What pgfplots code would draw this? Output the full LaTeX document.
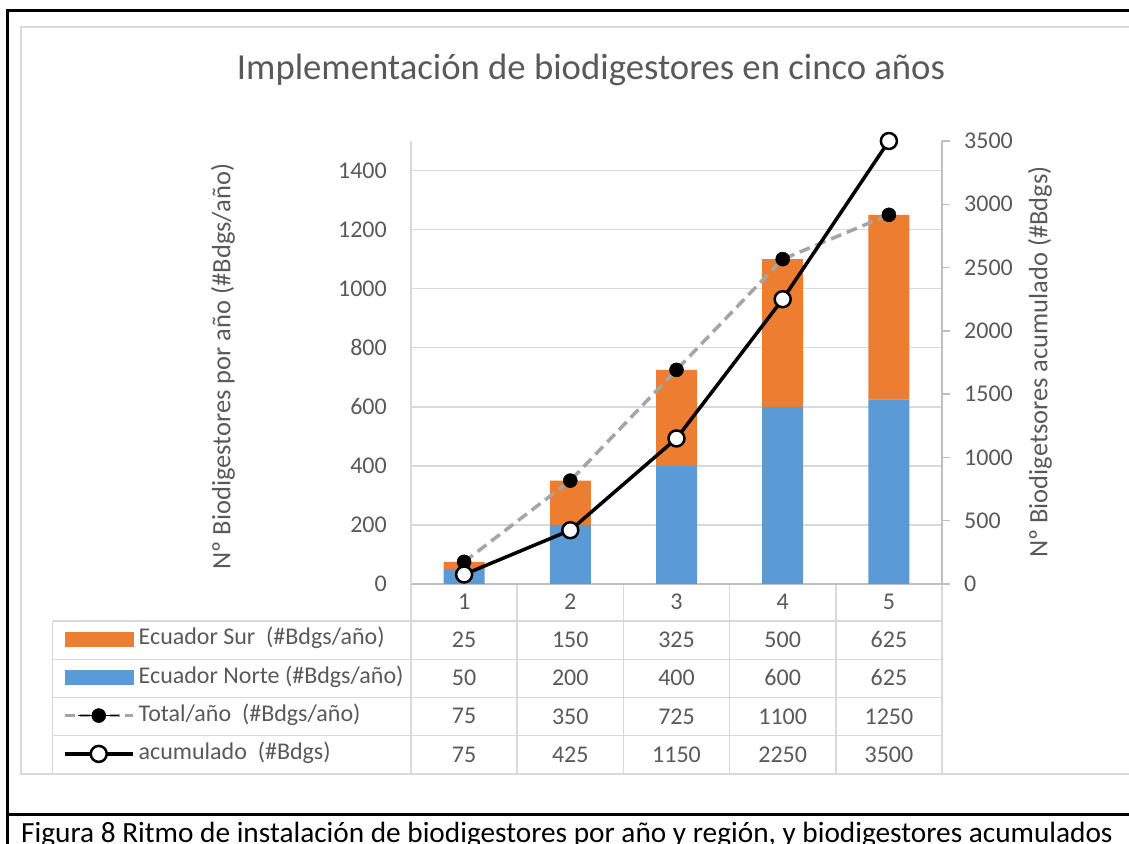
\documentclass[border=0pt]{standalone}
\usepackage{pgfplots}
\pgfplotsset{compat=1.18}
\usepackage{fontspec}
\setmainfont{Carlito}
\definecolor{tcol}{HTML}{595959}
\definecolor{gridc}{HTML}{D9D9D9}
\definecolor{axc}{HTML}{BFBFBF}
\definecolor{cnorte}{HTML}{5B9BD5}
\definecolor{csur}{HTML}{ED7D31}
\definecolor{ctot}{HTML}{A5A5A5}
\newcommand{\fs}[1]{\fontsize{#1}{#1}\selectfont}
\begin{document}
\begin{tikzpicture}
\path[use as bounding box] (0pt,0pt) rectangle (1129pt,843pt);
\clip (0pt,0pt) rectangle (1129pt,843pt);
\begin{scope}[x=1pt,y=1pt]
% outer frames
\draw[black, line width=3pt] (7,-5) -- (7,832) -- (1135,832);
\draw[black, line width=3pt] (7,29) -- (1135,29);
\draw[gridc, line width=2pt] (1135,69) -- (21,69) -- (21,816) -- (1135,816);
% title and axis titles
\node[anchor=base, text=tcol, font=\fs{36.7}, inner sep=0pt] at (591,763) {Implementación de biodigestores en cinco años};
\node[anchor=center, rotate=90, text=tcol, font=\fs{26.5}, inner sep=0pt] at (223,476.5) {Nº Biodigestores por año (\#Bdgs/año)};
\node[anchor=center, rotate=90, text=tcol, font=\fs{26.5}, inner sep=0pt] at (1040,481) {Nº Biodigetsores acumulado (\#Bdgs)};
\node[anchor=base west, font=\fs{29.3}, inner sep=0pt] at (21,0.5) {Figura 8 Ritmo de instalación de biodigestores por año y región, y biodigestores acumulados};
% data table grid
\begin{scope}[gridc, line width=1.5pt]
\foreach \y in {222,183.7,145.3,107.3,69} \draw (52.7,\y) -- (942,\y);
\draw (52.7,222) -- (52.7,69);
\foreach \x in {411,517.2,623.4,729.6,835.8,942} \draw (\x,259) -- (\x,69);
\end{scope}
% data table values
\begin{scope}[every node/.style={text=tcol, font=\fs{24}, inner sep=0pt, anchor=center}]
\foreach \v [count=\i] in {25,150,325,500,625} \node at ({411+106.2*(\i-0.5)},203.5) {\v};
\foreach \v [count=\i] in {50,200,400,600,625} \node at ({411+106.2*(\i-0.5)},165.2) {\v};
\foreach \v [count=\i] in {75,350,725,1100,1250} \node at ({411+106.2*(\i-0.5)},126.7) {\v};
\foreach \v [count=\i] in {75,425,1150,2250,3500} \node at ({411+106.2*(\i-0.5)},88.5) {\v};
\end{scope}
\end{scope}

% bars (left axis)
\begin{axis}[
  at={(411pt,259pt)}, anchor=south west,
  width=531pt, height=443pt, scale only axis,
  xmin=0.5, xmax=5.5, ymin=0, ymax=1500,
  ybar stacked, bar width=41pt,
  axis x line*=bottom, axis y line*=left,
  x axis line style={-, draw=axc, line width=1.5pt},
  y axis line style={-, draw=gridc, line width=1.5pt},
  xtick={1,2,3,4,5}, xticklabels={1,2,3,4,5},
  major tick length=0pt,
  ytick={0,200,...,1400},
  ymajorgrids, grid style={draw=gridc, line width=1.5pt},
  ticklabel style={font=\fs{24}, text=tcol, inner sep=0pt},
  xticklabel style={anchor=center, yshift=-18pt},
  yticklabel style={anchor=east, xshift=-24pt},
  /pgf/number format/assume math mode=true,
  /pgf/number format/1000 sep={},
  clip=false,
  legend cell align=left,
  legend style={
    at={(axis description cs:-0.65537,-0.09255)}, anchor=north west,
    draw=none, fill=none, inner sep=0pt, outer sep=0pt,
    row sep=10.3pt, column sep=4.2pt,
    font=\fs{24}, text=tcol,
    nodes={inner sep=0pt, text height=20pt, text depth=8pt},
  },
]
\addplot[fill=cnorte, draw=none, forget plot] coordinates {(1,50) (2,200) (3,400) (4,600) (5,625)};
\addplot[fill=csur, draw=none, forget plot] coordinates {(1,25) (2,150) (3,325) (4,500) (5,625)};
\addlegendimage{legend image code/.code={\fill[csur] (0pt,-7pt) rectangle (68pt,7pt);}}
\addlegendentry{Ecuador Sur\ \ (\#Bdgs/año)}
\addlegendimage{legend image code/.code={\fill[cnorte] (0pt,-7pt) rectangle (68pt,7pt);}}
\addlegendentry{Ecuador Norte (\#Bdgs/año)}
\addlegendimage{legend image code/.code={
  \draw[ctot, line width=3.5pt, dash pattern=on 10pt off 5pt] (0pt,0pt) -- (68pt,0pt);
  \draw plot[mark=*, mark size=7pt, mark options={fill=black, draw=black, line width=0.5pt}] coordinates {(34pt,0pt)};}}
\addlegendentry{Total/año\ \ (\#Bdgs/año)}
\addlegendimage{legend image code/.code={
  \draw[black, line width=3.5pt] (0pt,0pt) -- (68pt,0pt);
  \draw plot[mark=*, mark size=8pt, mark options={fill=white, draw=black, line width=2.5pt}] coordinates {(34pt,0pt)};}}
\addlegendentry{acumulado\ \ (\#Bdgs)}
\end{axis}

% total per year (left scale)
\begin{axis}[
  at={(411pt,259pt)}, anchor=south west,
  width=531pt, height=443pt, scale only axis,
  xmin=0.5, xmax=5.5, ymin=0, ymax=1500,
  hide axis, clip=false,
]
\addplot[ctot, line width=3.5pt, dash pattern=on 11pt off 6pt, line join=round,
  mark=*, mark size=7pt, mark options={solid, fill=black, draw=black, line width=0.5pt}]
  coordinates {(1,75) (2,350) (3,725) (4,1100) (5,1250)};
\end{axis}

% accumulated (right scale)
\begin{axis}[
  at={(411pt,259pt)}, anchor=south west,
  width=531pt, height=443pt, scale only axis,
  xmin=0.5, xmax=5.5, ymin=0, ymax=3500,
  axis x line=none, axis y line*=right,
  y axis line style={-, draw=axc, line width=1.5pt},
  ytick={0,500,...,3500}, tick align=outside, major tick length=8pt,
  ytick style={draw=axc, line width=1.5pt},
  yticklabel style={font=\fs{24}, text=tcol, inner sep=0pt, anchor=west, xshift=14pt},
  /pgf/number format/assume math mode=true,
  /pgf/number format/1000 sep={},
  clip=false,
]
\addplot[black, line width=3.5pt, line join=round,
  mark=*, mark size=8pt, mark options={fill=white, draw=black, line width=2.5pt}]
  coordinates {(1,75) (2,425) (3,1150) (4,2250) (5,3500)};
\end{axis}
\end{tikzpicture}
\end{document}
